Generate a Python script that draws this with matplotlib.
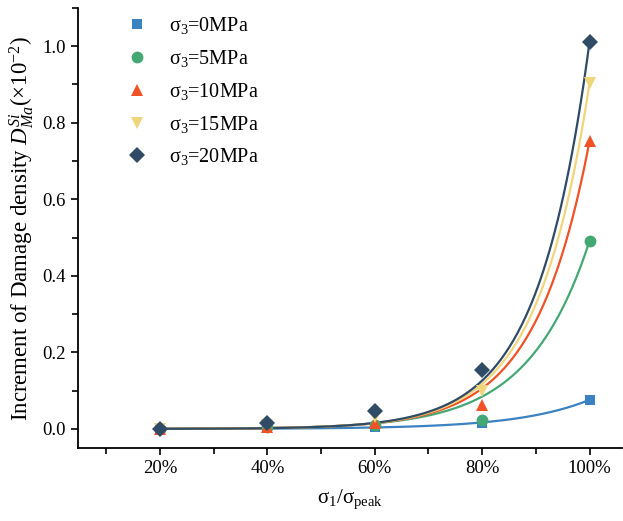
import numpy as np
import matplotlib
matplotlib.use("Agg")
import matplotlib.pyplot as plt
from matplotlib.ticker import MultipleLocator, FixedLocator, FormatStrFormatter

plt.rcParams['font.family'] = ['Liberation Serif', 'DejaVu Serif']
plt.rcParams['mathtext.fontset'] = 'custom'
plt.rcParams['mathtext.rm'] = 'Liberation Serif'
plt.rcParams['mathtext.it'] = 'Liberation Serif:italic'
plt.rcParams['mathtext.bf'] = 'Liberation Serif:bold'

# ---- data ----
stress_level = [20, 40, 60, 80, 100]
tick_labels = ['20%', '40%', '60%', '80%', '100%']
labels = [r'σ$_3$=0MPa', r'σ$_3$=5MPa', r'σ$_3$=10MPa', r'σ$_3$=15MPa', r'σ$_3$=20MPa']
s0 = [0.0, 0.003, 0.006, 0.016, 0.076]
s5 = [0.0, 0.004, 0.010, 0.024, 0.491]
s10 = [0.0, 0.006, 0.015, 0.063, 0.752]
s15 = [0.0, 0.010, 0.030, 0.098, 0.903]
s20 = [0.0, 0.016, 0.047, 0.154, 1.011]
series = [s0, s5, s10, s15, s20]

# exponential fit curves y = y0 + A*exp(b*(x-100)), parameters
fit_y0 = [0.0, 0.0, 0.0, 0.0, 0.0]
fit_A = [0.076, 0.491, 0.752, 0.903, 1.011]
fit_b = [0.075, 0.088, 0.098, 0.102, 0.104]

colors = ['#3A82C2', '#44A874', '#F05226', '#F1D57A', '#2F4B66']
markers = ['s', 'o', '^', 'v', 'D']
msizes = [7.5, 8.5, 9, 9, 8]

fig = plt.figure(figsize=(6.23, 5.21), dpi=100)
ax = fig.add_axes([0.125, 0.140, 0.873, 0.845])

xs = np.linspace(stress_level[0], stress_level[-1], 300)
for ys, y0, A, b, c, m, ms, lab in zip(series, fit_y0, fit_A, fit_b, colors,
                                       markers, msizes, labels):
    ax.plot(xs, y0 + A * np.exp(b * (xs - stress_level[-1])), color=c, lw=1.6, zorder=2)
    ax.plot(stress_level, ys, linestyle='none', marker=m, color=c, ms=ms,
            markeredgewidth=0, label=lab, zorder=3)

ax.set_xlim(4.7, 106)
ax.set_ylim(-0.05, 1.1)
ax.xaxis.set_major_locator(FixedLocator(stress_level))
ax.set_xticklabels(tick_labels)
ax.xaxis.set_minor_locator(FixedLocator([10, 30, 50, 70, 90]))
ax.yaxis.set_major_locator(MultipleLocator(0.2))
ax.yaxis.set_minor_locator(MultipleLocator(0.1))
ax.yaxis.set_major_formatter(FormatStrFormatter('%.1f'))

for s in ['top', 'right']:
    ax.spines[s].set_visible(False)
for s in ['left', 'bottom']:
    ax.spines[s].set_linewidth(1.3)
ax.tick_params(which='major', direction='out', length=5, width=1.2, labelsize=13.5)
ax.tick_params(which='minor', direction='out', length=4, width=1.2)

ax.set_xlabel(r'σ$_1$/σ$_{\rm peak}$', fontsize=15, labelpad=8)
ax.set_ylabel(r'Increment of Damage density $D_{Ma}^{Si}$(×10$^{-2}$)', fontsize=16.5, labelpad=5)

leg = ax.legend(loc='upper left', bbox_to_anchor=(0.056, 1.025), frameon=False,
                fontsize=14.5, handletextpad=1.1, labelspacing=0.59,
                handlelength=1.0)

fig.savefig('out.png', dpi=100)
